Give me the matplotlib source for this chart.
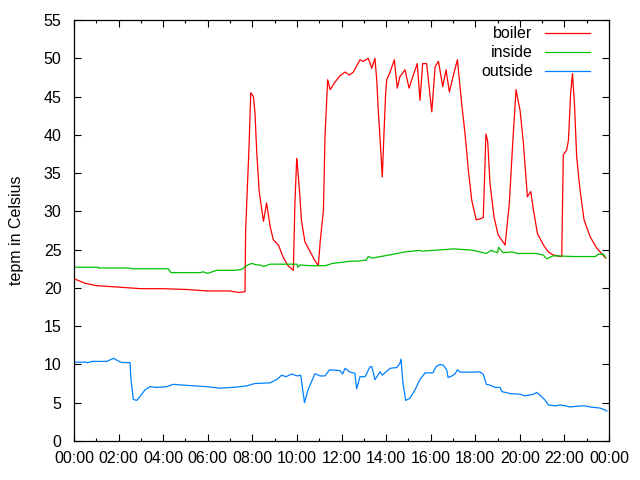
import numpy as np
from matplotlib import pyplot as plt

# times in hours since midnight, temperatures in Celsius
boiler_t = [0, 0.5, 1, 2, 3, 4, 5, 6, 7, 7.4, 7.67, 7.7, 7.85, 7.93, 8.05, 8.12, 8.2, 8.31,
            8.38, 8.5, 8.64, 8.8, 8.94, 9.17, 9.4, 9.6, 9.84, 9.91, 9.99, 10.03, 10.14, 10.2,
            10.36, 10.6, 10.8, 10.96, 11.04, 11.19, 11.26, 11.34, 11.38, 11.49, 11.71, 11.93,
            12.16, 12.35, 12.53, 12.83, 12.98, 13.2, 13.36, 13.5, 13.58, 13.65, 13.76, 13.83,
            13.9, 13.98, 14.03, 14.18, 14.37, 14.5, 14.62, 14.85, 15.03, 15.22, 15.4, 15.52,
            15.64, 15.82, 16.05, 16.2, 16.35, 16.54, 16.69, 16.84, 17.02, 17.2, 17.39, 17.54,
            17.69, 17.84, 18.04, 18.2, 18.36, 18.48, 18.56, 18.66, 18.84, 19.03, 19.34, 19.53,
            19.68, 19.83, 19.9, 20.01, 20.16, 20.34, 20.49, 20.61, 20.79, 21.06, 21.28, 21.5,
            21.81, 21.88, 21.95, 22.1, 22.18, 22.28, 22.36, 22.45, 22.55, 22.7, 22.88, 23.15,
            23.45, 23.85]
boiler = [21.2, 20.6, 20.3, 20.1, 19.9, 19.9, 19.8, 19.6, 19.6, 19.4, 19.5, 27.6, 38.3, 45.5,
          45.0, 42.8, 37.6, 32.5, 31.1, 28.7, 31.1, 28.0, 26.3, 25.6, 23.9, 22.9, 22.3, 31.0,
          36.9, 35.8, 31.7, 28.9, 26.0, 24.7, 23.6, 22.9, 25.9, 30.2, 39.8, 44.8, 47.2, 45.9,
          46.9, 47.7, 48.2, 47.8, 48.2, 49.8, 49.6, 50.0, 48.7, 50.0, 47.2, 43.2, 38.0, 34.5,
          39.8, 45.4, 47.2, 48.2, 49.8, 46.1, 47.6, 48.5, 46.1, 47.8, 49.3, 44.5, 49.3, 49.3,
          43.0, 48.9, 49.6, 46.3, 48.5, 45.6, 47.8, 49.8, 44.1, 40.2, 35.4, 31.5, 28.9, 29.0,
          29.2, 40.1, 39.1, 33.7, 29.3, 26.9, 25.6, 31.1, 38.9, 45.9, 44.8, 43.2, 38.9, 31.9,
          32.6, 30.2, 27.1, 25.6, 24.7, 24.3, 24.1, 24.1, 37.4, 38.0, 39.3, 45.4, 48.0, 44.1,
          37.1, 32.8, 28.9, 26.7, 25.2, 23.9]

inside_t = [0, 1.08, 1.1, 2.5, 2.6, 3.7, 4.23, 4.35, 5.65, 5.8, 6.0, 6.4, 7.2, 7.5, 7.8,
            7.97, 8.2, 8.35, 8.5, 8.8, 9.7, 10.0, 10.05, 10.14, 10.6, 11.26, 11.6, 12.16,
            12.4, 12.74, 12.98, 13.1, 13.2, 13.38, 13.95, 14.5, 14.85, 15.52, 15.6, 16.6,
            17.0, 17.8, 18.07, 18.5, 18.7, 19.0, 19.04, 19.25, 19.65, 19.9, 20.7, 21.05,
            21.2, 21.5, 22.4, 23.4, 23.5, 23.75, 23.85]
inside = [22.7, 22.7, 22.6, 22.6, 22.5, 22.5, 22.5, 22.0, 22.0, 22.1, 21.9, 22.3, 22.3, 22.4,
          23.0, 23.2, 23.0, 23.0, 22.8, 23.1, 23.1, 23.1, 22.7, 23.0, 22.9, 22.9, 23.2, 23.4,
          23.5, 23.5, 23.6, 23.6, 24.1, 23.9, 24.2, 24.5, 24.7, 24.9, 24.8, 25.0, 25.1, 24.95,
          24.8, 24.5, 24.9, 24.6, 25.3, 24.6, 24.7, 24.5, 24.5, 24.3, 23.8, 24.2, 24.1, 24.1,
          24.4, 24.4, 24.0]

outside_t = [0, 0.57, 0.6, 0.8, 1.47, 1.77, 1.99, 2.14, 2.51, 2.56, 2.66, 2.81, 2.96, 3.19,
             3.41, 3.71, 4.16, 4.45, 4.9, 5.95, 6.55, 7.07, 7.3, 7.75, 8.1, 8.8, 9.1, 9.32,
             9.51, 9.77, 10.02, 10.17, 10.34, 10.5, 10.81, 11.04, 11.26, 11.46, 11.93, 12.05,
             12.16, 12.38, 12.6, 12.68, 12.83, 13.06, 13.28, 13.36, 13.5, 13.73, 13.83, 14.18,
             14.48, 14.62, 14.67, 14.76, 14.88, 15.07, 15.3, 15.52, 15.75, 16.1, 16.24, 16.42,
             16.57, 16.72, 16.78, 16.96, 17.1, 17.2, 17.32, 17.54, 17.99, 18.2, 18.36, 18.5,
             18.66, 18.89, 19.11, 19.2, 19.56, 20.01, 20.23, 20.61, 20.76, 20.9, 21.13, 21.28,
             21.58, 21.8, 22.03, 22.25, 22.6, 22.9, 23.15, 23.6, 23.82, 23.9]
outside = [10.3, 10.3, 10.2, 10.4, 10.4, 10.8, 10.45, 10.25, 10.25, 8.0, 5.45, 5.3, 5.8, 6.7,
           7.1, 7.0, 7.1, 7.4, 7.3, 7.1, 6.9, 7.0, 7.05, 7.2, 7.5, 7.6, 8.05, 8.6, 8.4, 8.75,
           8.5, 8.6, 5.0, 6.7, 8.8, 8.5, 8.5, 9.3, 9.2, 8.75, 9.5, 9.0, 8.85, 6.8, 8.4, 8.4,
           9.7, 9.7, 8.0, 9.05, 8.6, 9.5, 9.6, 10.15, 10.7, 7.5, 5.3, 5.6, 6.7, 8.05, 8.9, 8.9,
           9.7, 10.0, 9.9, 9.3, 8.3, 8.5, 8.8, 9.3, 9.0, 9.0, 9.0, 9.05, 8.7, 7.4, 7.3, 7.0,
           7.0, 6.45, 6.2, 6.1, 5.9, 6.1, 6.35, 6.0, 5.35, 4.7, 4.6, 4.7, 4.6, 4.45, 4.55, 4.6,
           4.45, 4.3, 4.05, 3.9]

hour_ticks = list(range(0, 25, 2))
hour_labels = [f"{h % 24:02d}:00" for h in hour_ticks]


def plot_temps():
    plt.rcParams["font.family"] = ["Liberation Sans", "DejaVu Sans"]
    plt.rcParams["font.size"] = 11.5
    fig = plt.figure(figsize=(6.4, 4.8), dpi=100)
    ax = fig.add_axes([74 / 640, 39 / 480, 535 / 640, 421 / 480])

    ax.plot(boiler_t, boiler, color="#ff0000", lw=0.9, label="boiler")
    ax.plot(inside_t, inside, color="#00c000", lw=0.9, label="inside")
    ax.plot(outside_t, outside, color="#0080ff", lw=0.9, label="outside")

    ax.set_xlim(0, 24)
    ax.set_ylim(0, 55)
    ax.set_xticks(hour_ticks)
    ax.set_xticklabels(hour_labels)
    ax.set_xticks(np.arange(1, 24, 2), minor=True)
    ax.set_yticks(np.arange(0, 56, 5))

    ax.tick_params(which="both", direction="in", top=True, right=True, width=0.8)
    ax.tick_params(which="major", length=5)
    ax.tick_params(which="minor", length=2.5)
    ax.tick_params(axis="y", pad=9)
    ax.tick_params(axis="x", pad=7)
    for s in ax.spines.values():
        s.set_linewidth(0.9)

    ax.set_ylabel("tepm in Celsius", labelpad=14)

    ax.legend(loc="upper right", bbox_to_anchor=(0.9645, 0.985), frameon=False,
              markerfirst=False, handlelength=2.8, handletextpad=0.8, labelspacing=0.25,
              borderaxespad=0, borderpad=0, fontsize=11.5)
    return fig


if __name__ == "__main__":
    fig = plot_temps()
    fig.savefig("out.png", dpi=100)
